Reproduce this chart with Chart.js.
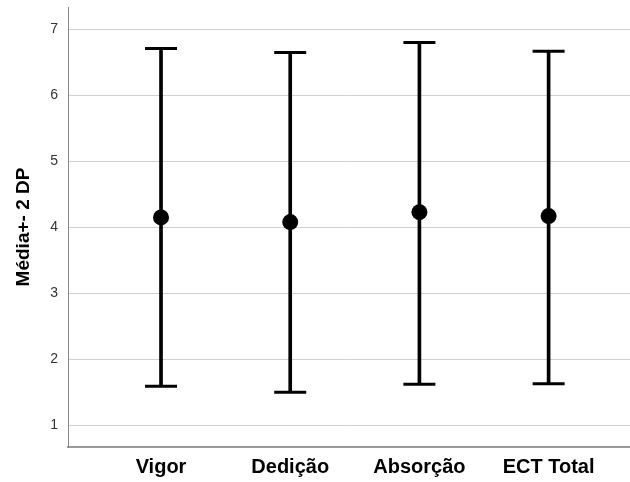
<!DOCTYPE html>
<html>
<head>
<meta charset="utf-8">
<script src="https://cdn.jsdelivr.net/npm/chart.js@4"></script>
<style>
  html, body { margin: 0; padding: 0; background: #fff; }
  #wrap { width: 630px; height: 482px; position: relative; }
</style>
</head>
<body>
<div id="wrap"><canvas id="chart"></canvas></div>
<script>
var categories = ['Vigor', 'Dedição', 'Absorção', 'ECT Total'];
var means = [4.15, 4.08, 4.23, 4.17];
var lower = [1.59, 1.50, 1.62, 1.63];
var upper = [6.71, 6.65, 6.80, 6.67];
var yTicks = [1, 2, 3, 4, 5, 6, 7];

var font = "'Liberation Sans', Arial, sans-serif";

var barData = categories.map(function(c, i) { return {x: i + 1, y: [lower[i], upper[i]]}; });
var capData = [];
categories.forEach(function(c, i) {
    capData.push({x: i + 1, y: lower[i]});
    capData.push({x: i + 1, y: upper[i]});
});
var meanData = categories.map(function(c, i) { return {x: i + 1, y: means[i]}; });

new Chart(document.getElementById('chart'), {
    type: 'bar',
    data: {
        datasets: [
            {type: 'bar', data: barData, backgroundColor: '#000', borderWidth: 0, barThickness: 3, order: 3},
            {type: 'scatter', data: capData, pointStyle: 'line', pointRadius: 16, borderWidth: 3, borderColor: '#000', order: 2},
            {type: 'scatter', data: meanData, pointRadius: 8, backgroundColor: '#000', borderColor: '#000', borderWidth: 0, order: 1}
        ]
    },
    options: {
        responsive: true,
        maintainAspectRatio: false,
        animation: false,
        layout: { autoPadding: false, padding: { top: 7, right: 0, left: 0, bottom: 0 } },
        plugins: { legend: { display: false }, tooltip: { enabled: false } },
        scales: {
            x: {
                type: 'linear',
                offset: false,
                min: 0.28,
                max: 4.63,
                grid: { display: false, drawTicks: false },
                border: { color: '#999', width: 2 },
                afterBuildTicks: function(scale) {
                    scale.ticks = categories.map(function(c, i) { return {value: i + 1}; });
                },
                afterFit: function(scale) {
                    scale.height = 35;
                    scale.paddingLeft = 0;
                    scale.paddingRight = 0;
                },
                ticks: {
                    padding: 8,
                    color: '#000',
                    maxRotation: 0,
                    font: { family: font, size: 20, weight: 'bold' },
                    callback: function(v) { return categories[v - 1]; }
                }
            },
            y: {
                min: 0.67,
                max: 7.34,
                grid: { color: '#d0d0d0', drawTicks: false },
                border: { color: '#888', width: 1 },
                afterBuildTicks: function(scale) {
                    scale.ticks = yTicks.map(function(v) { return {value: v}; });
                },
                afterFit: function(scale) {
                    scale.width = 68;
                    scale.paddingTop = 0;
                    scale.paddingBottom = 0;
                },
                ticks: {
                    padding: 10,
                    color: '#333',
                    font: { family: font, size: 14 }
                },
                title: {
                    display: true,
                    text: 'Média+- 2 DP',
                    color: '#000',
                    padding: { top: 12, bottom: 0 },
                    font: { family: font, size: 19, weight: 'bold' }
                }
            }
        }
    }
});
</script>
</body>
</html>
